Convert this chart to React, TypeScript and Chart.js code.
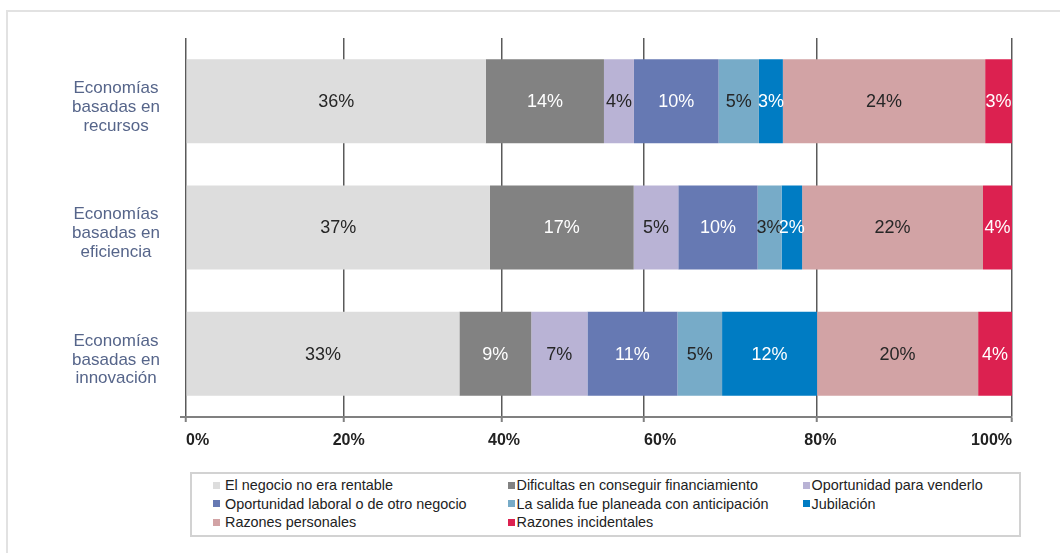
import React, { useEffect, useRef } from "react";
import { Chart, registerables } from "chart.js";

Chart.register(...registerables);

const FONT = "'Liberation Sans', Arial, Helvetica, sans-serif";

const categories = [
  ["Economías", "basadas en", "recursos"],
  ["Economías", "basadas en", "eficiencia"],
  ["Economías", "basadas en", "innovación"],
];

const seriesNames = [
  "El negocio no era rentable",
  "Dificultas en conseguir financiamiento",
  "Oportunidad para venderlo",
  "Oportunidad laboral o de otro negocio",
  "La salida fue planeada con anticipación",
  "Jubilación",
  "Razones personales",
  "Razones incidentales",
];

const noRentable = [36.3, 36.8, 33.1];
const financiamiento = [14.3, 17.4, 8.7];
const venderlo = [3.63, 5.4, 6.8];
const laboral = [10.25, 9.6, 10.9];
const planeada = [4.88, 2.9, 5.4];
const jubilacion = [2.9, 2.49, 11.5];
const personales = [24.49, 21.9, 19.5];
const incidentales = [3.25, 3.51, 4.1];

const seriesValues = [noRentable, financiamiento, venderlo, laboral, planeada, jubilacion, personales, incidentales];

const seriesColors = ["#dddddd", "#828282", "#b9b3d5", "#6679b3", "#77abc8", "#007cc3", "#d2a3a5", "#dc2150"];
const labelColors = ["#262626", "#ffffff", "#262626", "#ffffff", "#262626", "#ffffff", "#262626", "#ffffff"];

const tickLabels = ["0%", "20%", "40%", "60%", "80%", "100%"];
// positions (in axis units) where the reference draws its grid lines and its tick labels
const gridValues = [0, 19.13, 38.2, 55.4, 76.4, 100];
const tickLabelValues = [0, 19.7, 38.5, 57.4, 76.8, 100];

const legendGaps = [5, 1.5, 1.5];

const barLabels = {
  id: "barLabels",
  afterDatasetsDraw(chart: any) {
    const ctx = chart.ctx;
    ctx.save();
    ctx.font = `18px ${FONT}`;
    ctx.textAlign = "center";
    ctx.textBaseline = "middle";
    chart.data.datasets.forEach((ds: any, di: number) => {
      const meta = chart.getDatasetMeta(di);
      meta.data.forEach((el: any, j: number) => {
        const v = ds.data[j] as number;
        const p = el.getCenterPoint();
        ctx.fillStyle = labelColors[di];
        ctx.fillText(Math.round(v) + "%", p.x, p.y + 1);
      });
    });
    ctx.restore();
  },
};

export default function App() {
  const canvasRef = useRef<HTMLCanvasElement | null>(null);

  useEffect(() => {
    if (!canvasRef.current) return;
    const chart = new Chart(canvasRef.current, {
      type: "bar",
      data: {
        labels: categories as any,
        datasets: seriesNames.map((name, i) => ({
          label: name,
          data: seriesValues[i],
          backgroundColor: seriesColors[i],
          borderWidth: 0,
          barPercentage: 1,
          categoryPercentage: 0.665,
        })),
      },
      options: {
        indexAxis: "y",
        animation: false,
        responsive: false,
        devicePixelRatio: 1,
        layout: { padding: { top: 38, left: 0, right: 48, bottom: 0 } },
        plugins: { legend: { display: false }, tooltip: { enabled: false } },
        scales: {
          x: {
            type: "linear",
            stacked: true,
            min: 0,
            max: 100,
            position: "bottom",
            weight: 0,
            afterBuildTicks: (s: any) => {
              s.ticks = gridValues.map((v) => ({ value: v }));
            },
            grid: {
              color: "#5a5a5a",
              lineWidth: 1.5,
              drawTicks: true,
              tickLength: 5,
              tickColor: "#808080",
              tickWidth: 2,
            },
            border: { display: true, color: "#808080", width: 2 },
            ticks: { display: false },
            afterFit: (s: any) => {
              s.height = 5;
              s.paddingLeft = 0;
              s.paddingRight = 0;
            },
          } as any,
          x2: {
            type: "linear",
            position: "bottom",
            min: 0,
            max: 100,
            weight: 1,
            afterBuildTicks: (s: any) => {
              s.ticks = tickLabelValues.map((v) => ({ value: v }));
            },
            grid: { display: false, drawTicks: false },
            border: { display: false },
            ticks: {
              autoSkip: false,
              maxRotation: 0,
              minRotation: 0,
              align: "inner",
              padding: 9,
              color: "#222222",
              font: { family: FONT, size: 16, weight: "bold" },
              callback: (_v: any, i: number) => tickLabels[i],
            },
            afterFit: (s: any) => {
              s.height = 30;
              s.paddingLeft = 0;
              s.paddingRight = 0;
            },
          } as any,
          y: {
            stacked: true,
            grid: {
              display: true,
              drawOnChartArea: false,
              drawTicks: true,
              tickLength: 6,
              lineWidth: 2,
              color: (c: any) => (c.type === "tick" ? "rgba(0,0,0,0)" : "#808080"),
            },
            border: { display: false },
            ticks: {
              crossAlign: "center",
              padding: 20,
              labelOffset: 6,
              color: "#56658a",
              font: { family: FONT, size: 17, lineHeight: 1.1 },
            },
            afterFit: (s: any) => {
              s.width = 186;
              s.paddingTop = 0;
              s.paddingBottom = 0;
            },
          } as any,
        },
      },
      plugins: [barLabels],
    });
    return () => chart.destroy();
  }, []);

  return (
    <div
      style={{
        position: "fixed",
        left: 0,
        top: 0,
        width: 1060,
        height: 553,
        overflow: "hidden",
        background: "#ffffff",
        fontFamily: FONT,
      }}
    >
      <div
        style={{
          position: "absolute",
          left: 6,
          top: 10,
          width: 1100,
          height: 600,
          border: "2px solid #e2e2e2",
        }}
      />
      <canvas
        ref={canvasRef}
        width={1060}
        height={452}
        style={{ position: "absolute", left: 0, top: 0, width: 1060, height: 452 }}
      />
      <div
        style={{
          position: "absolute",
          left: 190,
          top: 472,
          width: 831,
          height: 65,
          boxSizing: "border-box",
          border: "2px solid #d2d2d2",
        }}
      >
        {seriesNames.map((name, i) => {
          const col = i % 3;
          const row = Math.floor(i / 3);
          return (
            <div
              key={name}
              style={{
                position: "absolute",
                left: 21 + col * 295,
                top: 1.5 + row * 18.5,
                height: 19,
                display: "flex",
                alignItems: "center",
                whiteSpace: "nowrap",
                fontSize: 14.4,
                color: "#222222",
              }}
            >
              <span
                style={{
                  display: "inline-block",
                  width: 7,
                  height: 7,
                  background: seriesColors[i],
                  marginRight: legendGaps[col],
                }}
              />
              <span>{name}</span>
            </div>
          );
        })}
      </div>
    </div>
  );
}
